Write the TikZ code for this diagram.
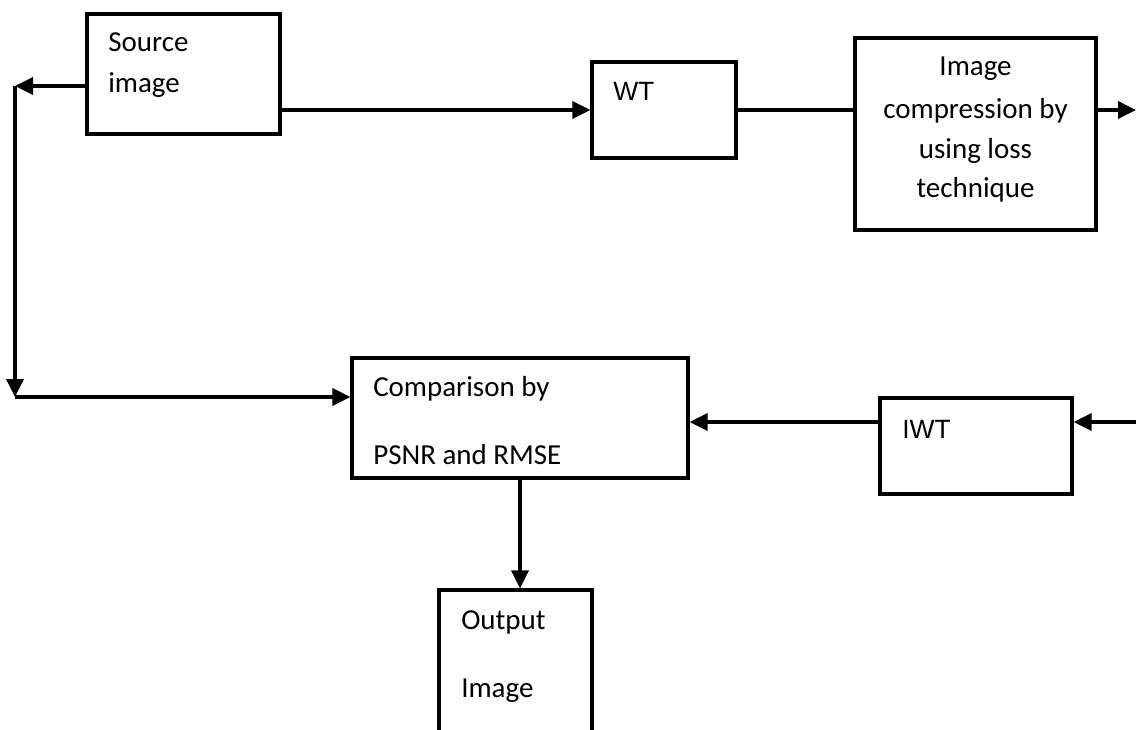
\documentclass[tikz,border=0pt]{standalone}
\usepackage{fontspec}
\setmainfont{Carlito}
\newfontfamily\arialfont{Liberation Sans}
\usetikzlibrary{positioning,calc,arrows.meta}
\newcommand{\pxl}{0.025cm}

\begin{document}
\begin{tikzpicture}[x=0.025cm,y=-0.025cm,
        blk/.style={draw,line width=2.2pt,inner sep=0pt},
        conn/.style={line width=2.5pt},
        tip/.style={-{Triangle[length=18*\pxl,width=17*\pxl]}},
        txt/.style={anchor=base west,inner sep=0pt,font=\fontsize{20.6pt}{29pt}\selectfont}]
        \useasboundingbox (0,0) rectangle (1136,729);
        \clip (0,0) rectangle (1136,729);

        % boxes
        \node[blk,minimum width=193*\pxl,minimum height=120*\pxl] (src)  at (183.5,74) {};
        \node[blk,minimum width=144*\pxl,minimum height=96*\pxl]  (wt)   at (664,110) {};
        \node[blk,minimum width=241*\pxl,minimum height=192*\pxl] (comp) at (975.5,134) {};
        \node[blk,minimum width=336*\pxl,minimum height=120*\pxl] (cmp)  at (520,418) {};
        \node[blk,minimum width=192*\pxl,minimum height=96*\pxl]  (iwt)  at (976,446) {};
        \node[blk,minimum width=153*\pxl,minimum height=200*\pxl] (out)  at (515.5,690) {};

        % texts
        \node[txt] (srcA) at (108,52) {Source};
        \node[txt] (srcB) at (108,93) {image};
        \node[txt,font=\arialfont\fontsize{18.8pt}{22pt}\selectfont] (wtT) at (613,101) {WT};
        \node[txt,anchor=base] (compA) at (975.5,75)  {Image};
        \node[txt,anchor=base] (compB) at (975.5,118) {compression by};
        \node[txt,anchor=base] (compC) at (975.5,158) {using loss};
        \node[txt,anchor=base] (compD) at (975.5,197) {technique};
        \node[txt] (cmpA) at (373,396) {Comparison by};
        \node[txt] (cmpB) at (373,464) {PSNR and RMSE};
        \node[txt,font=\arialfont\fontsize{18.8pt}{22pt}\selectfont] (iwtT) at (902,438) {IWT};
        \node[txt] (outA) at (461,629) {Output};
        \node[txt] (outB) at (461,697) {Image};

        \coordinate (tl) at (15,86);
        \coordinate (bl) at (15,397);
        \coordinate (tr) at (1136,110);
        \coordinate (br) at (1136,422);

        % connectors
        \begin{scope}[conn]
        \draw[tip] (src.west |- tl) -- (tl);
        \draw[tip] (tl) -- (bl);
        \draw[tip] (bl) -- (cmp.west |- bl);
        \draw[tip] (src.east |- wt.west) -- (wt.west);
        \draw (wt.east) -- (comp.west |- wt.east);
        \draw[tip] (comp.east |- tr) -- (tr);
        \draw[tip] (br) -- (iwt.east |- br);
        \draw[tip] (iwt.west |- br) -- (cmp.east |- br);
        \draw[tip] (cmp.south) -- (cmp.south |- out.north);
        \end{scope}

        %\draw[step=50,gray,very thin] (0,0) grid (1136,729);
    \end{tikzpicture}
\end{document}
